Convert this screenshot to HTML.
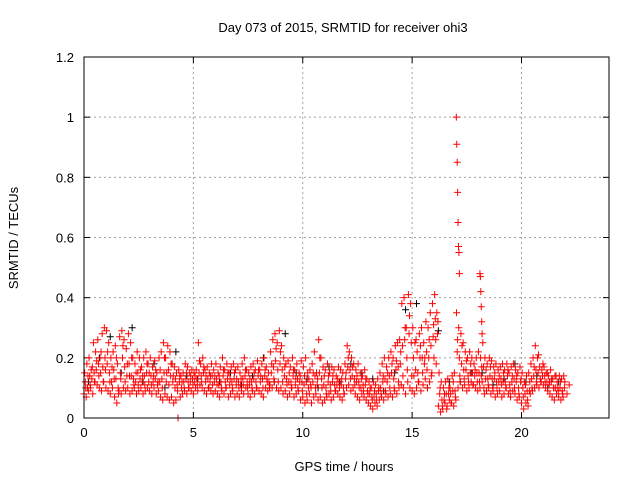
<!DOCTYPE html>
<html><head><meta charset="utf-8">
<style>
html,body{margin:0;padding:0;background:#fff;}
svg{display:block;font-family:"Liberation Sans",sans-serif;}
</style></head>
<body>
<svg id="chart" width="640" height="480" xmlns="http://www.w3.org/2000/svg">
<text x="343" y="32" font-size="13" text-anchor="middle">Day 073 of 2015, SRMTID for receiver ohi3</text>
<text transform="translate(18,238) rotate(-90)" font-size="13" text-anchor="middle">SRMTID / TECUs</text>
<text x="344" y="471" font-size="13" text-anchor="middle">GPS time / hours</text>
<g id="grid"></g>
<g id="ticks"></g>
<g id="black"></g>
<g id="red"></g>
<rect x="84" y="57" width="525" height="361" fill="none" stroke="#000" stroke-width="1"/>
</svg>
<script>
const xTicks=[0,5,10,15,20];
const yTicks=[0,0.2,0.4,0.6,0.8,1,1.2];
const yTickLabels=["0","0.2","0.4","0.6","0.8","1","1.2"];
const lowVals=[.08,.07,.09,.1,.08,.12,.11,.1,.09,.12,.1,.09,.08,.1,.07,.05,.09,.08,.1,.09,.1,.08,.09,.1,.08,.09,.1,.08,.09,.1,.09,.08,.1,.08,.09,.07,.06,.08,.07,.06,.07,.05,.06,.0,.07,.08,.09,.08,.1,.09,.08,.1,.09,.11,.1,.09,.08,.1,.09,.08,.09,.08,.07,.09,.08,.1,.07,.08,.09,.07,.08,.07,.09,.08,.1,.08,.07,.09,.08,.1,.09,.08,.07,.1,.09,.11,.1,.12,.1,.09,.1,.08,.09,.07,.08,.1,.07,.08,.09,.06,.07,.05,.06,.08,.05,.07,.08,.06,.07,.05,.06,.07,.08,.06,.07,.09,.08,.07,.06,.08,.1,.11,.09,.1,.08,.07,.06,.08,.07,.06,.05,.04,.03,.05,.04,.06,.07,.06,.08,.07,.08,.07,.09,.08,.1,.11,.1,.08,.12,.1,.09,.08,.1,.12,.09,.11,.13,.1,.12,.15,.2,.18,.04,.02,.03,.05,.04,.06,.05,.04,.06,.1,.12,.1,.11,.09,.1,.12,.11,.1,.09,.1,.12,.08,.09,.1,.08,.09,.07,.08,.09,.07,.08,.1,.08,.07,.09,.08,.06,.07,.05,.03,.05,.04,.08,.09,.1,.11,.1,.12,.11,.1,.09,.08,.07,.06,.08,.07,.06,.07];
const highVals=[.15,.18,.2,.16,.25,.22,.26,.2,.28,.3,.29,.25,.2,.22,.24,.18,.27,.29,.26,.23,.28,.25,.2,.18,.22,.2,.17,.2,.22,.18,.2,.17,.19,.15,.2,.22,.25,.2,.24,.22,.18,.17,.15,.16,.14,.15,.18,.17,.15,.16,.15,.16,.25,.18,.2,.16,.17,.15,.18,.16,.18,.15,.17,.2,.16,.18,.15,.17,.18,.16,.17,.15,.18,.2,.16,.15,.17,.18,.16,.19,.16,.18,.2,.17,.15,.22,.26,.28,.25,.29,.24,.2,.18,.19,.17,.2,.16,.18,.15,.19,.17,.2,.15,.16,.18,.22,.15,.26,.2,.17,.16,.18,.15,.17,.16,.14,.17,.16,.15,.18,.24,.22,.2,.18,.16,.18,.15,.14,.16,.13,.12,.1,.12,.11,.13,.15,.18,.2,.17,.2,.22,.2,.24,.25,.26,.38,.4,.3,.41,.38,.3,.25,.22,.28,.3,.25,.32,.3,.35,.38,.41,.35,.15,.12,.1,.12,.13,.1,.14,.15,.35,.3,.28,.25,.22,.2,.22,.2,.18,.2,.22,.2,.25,.2,.18,.2,.19,.17,.18,.16,.17,.18,.16,.18,.15,.17,.18,.16,.15,.17,.15,.12,.14,.15,.18,.2,.24,.2,.17,.16,.17,.15,.14,.16,.13,.14,.12,.14,.13,.14];
const midVals=[.12,.1,.14,.13,.15,.16,.18,.15,.17,.2,.18,.15,.12,.16,.13,.1,.15,.2,.17,.14,.18,.14,.13,.12,.15,.13,.12,.14,.15,.12,.14,.12,.13,.11,.12,.13,.15,.12,.16,.14,.12,.1,.11,.12,.1,.12,.13,.12,.12,.13,.12,.13,.15,.14,.15,.12,.13,.12,.14,.12,.13,.11,.12,.14,.12,.13,.11,.12,.13,.11,.12,.11,.13,.14,.12,.11,.12,.13,.12,.14,.12,.13,.14,.13,.12,.15,.17,.19,.16,.18,.16,.14,.13,.12,.12,.14,.11,.13,.12,.12,.11,.12,.1,.11,.12,.14,.11,.15,.13,.11,.1,.12,.11,.12,.11,.11,.12,.11,.1,.13,.17,.16,.14,.13,.12,.12,.1,.11,.11,.09,.08,.07,.07,.08,.09,.1,.12,.13,.12,.14,.15,.13,.16,.17,.18,.24,.26,.2,.28,.25,.2,.16,.15,.2,.2,.18,.22,.2,.24,.27,.33,.28,.08,.06,.06,.08,.08,.08,.09,.09,.22,.2,.18,.16,.16,.14,.15,.15,.14,.15,.15,.14,.17,.13,.13,.14,.13,.13,.12,.12,.13,.12,.12,.14,.11,.12,.13,.12,.1,.12,.1,.08,.09,.09,.13,.14,.16,.15,.13,.14,.14,.12,.11,.12,.1,.1,.1,.1,.09,.1];
const extraVals=[.1,.14,.11,.17,.12,.19,.14,.22,.12,.16,.22,.12,.17,.13,.2,.08,.13,.24,.12,.18,.14,.2,.11,.15,.11,.16,.14,.11,.18,.15,.11,.14,.16,.12,.16,.1,.2,.15,.11,.18,.14,.13,.09,.14,.12,.1,.15,.1,.14,.11,.14,.11,.19,.12,.17,.14,.1,.14,.11,.14,.11,.14,.1,.16,.1,.15,.13,.1,.15,.13,.1,.13,.11,.16,.1,.13,.1,.15,.1,.16,.14,.1,.16,.12,.1,.18,.13,.23,.12,.22,.12,.17,.11,.15,.1,.16,.13,.1,.14,.09,.14,.08,.13,.1,.15,.1,.13,.2,.1,.14,.08,.14,.09,.14,.09,.13,.1,.13,.08,.15,.2,.13,.17,.11,.14,.1,.13,.09,.13,.08,.1,.06,.09,.06,.1,.08,.14,.09,.15,.1,.18,.1,.19,.12,.22,.14,.3,.16,.34,.14,.14,.26,.12,.24,.15,.2,.16,.26,.14,.31,.26,.32,.1,.04,.08,.03,.1,.05,.12,.07,.26,.14,.24,.13,.19,.12,.18,.11,.16,.12,.12,.17,.1,.16,.11,.17,.1,.15,.1,.14,.11,.15,.1,.16,.09,.14,.1,.14,.08,.13,.07,.11,.06,.12,.1,.17,.12,.21,.12,.18,.12,.15,.12,.13,.1,.14,.09,.12,.08,.12,.08,.11];
const spikeTimes=[17.02,17.04,17.06,17.08,17.1,17.12,17.14,17.16,18.1,18.12,18.14,18.16,18.18,18.2];
const spikeVals=[1.0,.91,.85,.75,.65,.57,.55,.48,.48,.47,.42,.37,.32,.28];
const blackVals=[.12,.2,.27,.15,.3,.12,.18,.1,.22,.14,.13,.1,.12,.15,.11,.14,.2,.12,.28,.15,.13,.1,.17,.12,.18,.15,.13,.09,.15,.36,.38,.1,.29,.12,.12,.15,.15,.11,.13,.18,.12,.14,.1,.12];
const NS="http://www.w3.org/2000/svg";
const X0=84,X1=609,Y0=418,Y1=57,XMAX=24,YMAX=1.2;
function xs(t){return X0+(X1-X0)*t/XMAX;}
function ys(v){return Y0-(Y0-Y1)*v/YMAX;}
const grid=document.getElementById('grid'),ticks=document.getElementById('ticks');
function mk(tag,attrs,parent){const e=document.createElementNS(NS,tag);for(const k in attrs)e.setAttribute(k,attrs[k]);parent.appendChild(e);return e;}
xTicks.forEach(t=>{
  const x=xs(t);
  if(t>0){const g=mk('line',{x1:x,x2:x,y1:Y1,y2:Y0,stroke:'#a0a0a0','stroke-dasharray':'2,3'},grid);
  
  }
  mk('line',{x1:x,x2:x,y1:Y0,y2:Y0-6,stroke:'#000'},ticks);
  mk('line',{x1:x,x2:x,y1:Y1,y2:Y1+6,stroke:'#000'},ticks);
  const l=mk('text',{x:x,y:Y0+19,'font-size':13,'text-anchor':'middle'},ticks);
  l.textContent=String(t);
  
  
});
yTicks.forEach((v,i)=>{
  const y=ys(v);
  if(v>0&&v<YMAX){const g=mk('line',{x1:X0,x2:X1,y1:y,y2:y,stroke:'#a0a0a0','stroke-dasharray':'2,3'},grid);
  
  }
  mk('line',{x1:X0,x2:X0+6,y1:y,y2:y,stroke:'#000'},ticks);
  mk('line',{x1:X1,x2:X1-6,y1:y,y2:y,stroke:'#000'},ticks);
  const l=mk('text',{x:X0-10,y:y+5,'font-size':13,'text-anchor':'end'},ticks);
  l.textContent=yTickLabels[i];
  
  
});
function plus(parent,t,v,color){
  const x=xs(t),y=ys(v);
  const p=mk('path',{d:`M${x-3.5},${y}h7M${x},${y-3.5}v7`,stroke:color,'stroke-width':1,fill:'none'},parent);
  
  
}
const bg=document.getElementById('black'),rg=document.getElementById('red');
blackVals.forEach((v,i)=>plus(bg,i*0.5+0.2,v,'#000'));
lowVals.forEach((v,i)=>plus(rg,i*0.1,v,'#f00'));
highVals.forEach((v,i)=>plus(rg,i*0.1+0.03,v,'#f00'));
midVals.forEach((v,i)=>plus(rg,i*0.1+0.06,v,'#f00'));
extraVals.forEach((v,i)=>plus(rg,i*0.1+0.08,v,'#f00'));
spikeVals.forEach((v,i)=>plus(rg,spikeTimes[i],v,'#f00'));
</script>
</body></html>
